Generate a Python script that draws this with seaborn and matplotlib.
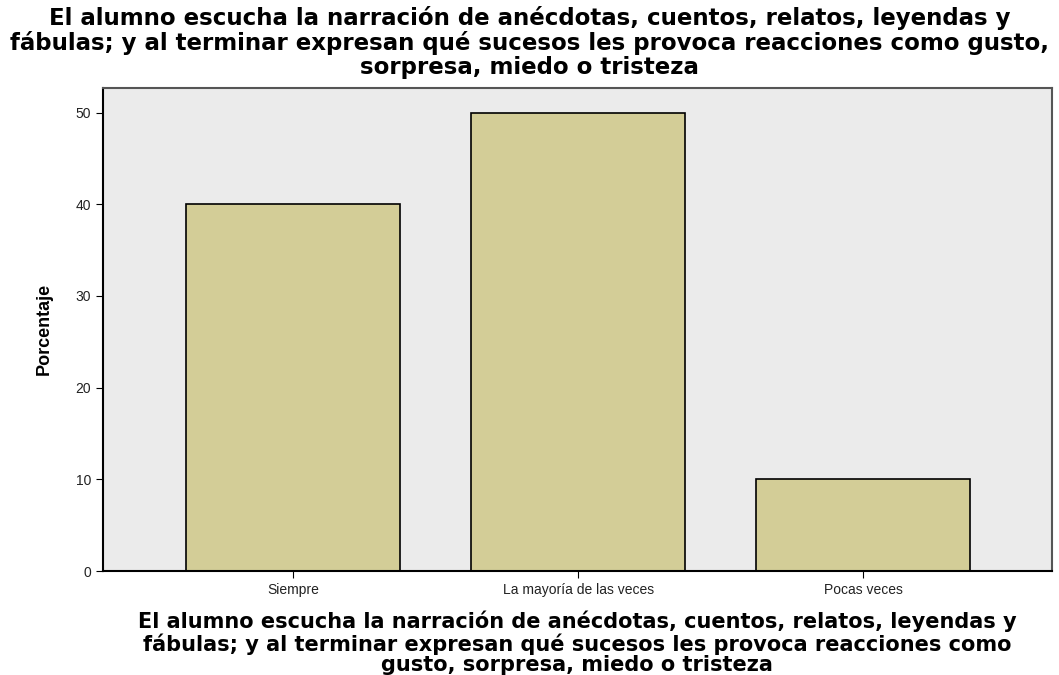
import seaborn as sns
import matplotlib.pyplot as plt
import pandas as pd

categorias = ['Siempre', 'La mayoría de las veces', 'Pocas veces']
porcentajes = [40, 50, 10]
ticks_y = [0, 10, 20, 30, 40, 50]

titulo = ('El alumno escucha la narración de anécdotas, cuentos, relatos, leyendas y\n'
          'fábulas; y al terminar expresan qué sucesos les provoca reacciones como gusto,\n'
          'sorpresa, miedo o tristeza')
etiqueta_x = ('El alumno escucha la narración de anécdotas, cuentos, relatos, leyendas y\n'
              'fábulas; y al terminar expresan qué sucesos les provoca reacciones como\n'
              'gusto, sorpresa, miedo o tristeza')

df = pd.DataFrame({'cat': categorias, 'pct': porcentajes})

sns.set_style('white')
plt.rcParams['font.family'] = ['Liberation Sans', 'DejaVu Sans']
plt.rcParams['text.color'] = 'black'
plt.rcParams['axes.labelcolor'] = 'black'

fig = plt.figure(figsize=(10.59, 6.75), dpi=100)
ax = fig.add_axes([0.097, 0.154, 0.896, 0.716])
ax.set_facecolor('#ebebeb')

sns.barplot(data=df, x='cat', y='pct', color='#d3cd97', saturation=1,
            edgecolor='black', linewidth=1.2, width=0.75, ax=ax)

ax.set_xlim(-0.668, 2.661)
ax.set_ylim(0, 52.7)
ax.set_yticks(ticks_y)
ax.set_yticklabels([str(t) for t in ticks_y], fontsize=10)
ax.tick_params(axis='x', labelsize=10, length=5, color='black', bottom=True, labelcolor='#222222')
ax.tick_params(axis='y', length=5, color='black', left=True, labelcolor='#222222')

for s in ax.spines.values():
    s.set_color('#555555')
    s.set_linewidth(1.5)
ax.spines['left'].set_color('black')
ax.spines['bottom'].set_color('black')

ax.set_ylabel('Porcentaje', fontsize=13, fontweight='bold', labelpad=16)
ax.set_xlabel(etiqueta_x, fontsize=15, fontweight='bold', family='DejaVu Sans',
              linespacing=1.05, labelpad=10)
fig.suptitle(titulo, fontsize=16.5, fontweight='bold', family='DejaVu Sans',
             y=0.991, linespacing=1.05)

fig.savefig('out.png', dpi=100, facecolor='white')
